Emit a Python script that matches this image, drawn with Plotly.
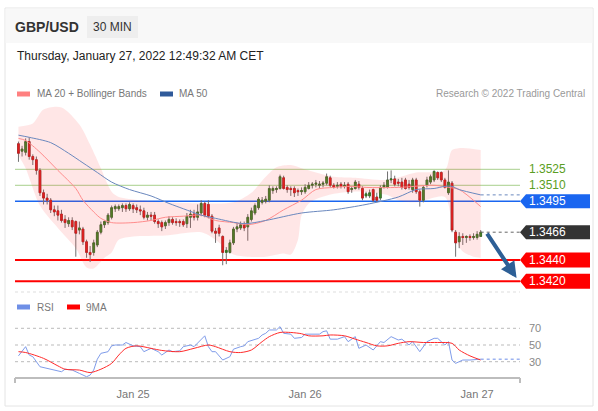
import plotly.graph_objects as go
from datetime import datetime, timedelta

# ---------------- data ----------------
start_time = datetime(2022, 1, 24, 8, 0)
step = timedelta(minutes=30)

open_ = [1.3549,1.3542,1.3541,1.3551,1.3537,1.3534,1.3524,1.3503,1.3498,1.3496,
         1.3487,1.3486,1.3483,1.3478,1.3474,1.3477,1.3476,1.3468,1.3469,1.3457,
         1.3447,1.3447,1.3454,1.3466,1.3473,1.3475,1.3480,1.3488,1.3488,1.3489,
         1.3491,1.3488,1.3491,1.3489,1.3487,1.3486,1.3480,1.3482,1.3482,1.3476,
         1.3475,1.3472,1.3475,1.3478,1.3476,1.3476,1.3476,1.3474,1.3480,1.3483,
         1.3480,1.3484,1.3493,1.3492,1.3481,1.3467,1.3470,1.3462,1.3447,1.3447,
         1.3456,1.3469,1.3470,1.3473,1.3471,1.3478,1.3484,1.3489,1.3494,1.3495,
         1.3496,1.3505,1.3506,1.3507,1.3517,1.3508,1.3507,1.3507,1.3505,1.3504,
         1.3504,1.3507,1.3510,1.3511,1.3510,1.3511,1.3512,1.3517,1.3510,1.3509,
         1.3511,1.3509,1.3511,1.3506,1.3507,1.3511,1.3507,1.3500,1.3500,1.3506,
         1.3499,1.3498,1.3508,1.3508,1.3515,1.3516,1.3513,1.3513,1.3515,1.3511,
         1.3506,1.3515,1.3504,1.3496,1.3510,1.3513,1.3515,1.3522,1.3522,1.3515,
         1.3503,1.3512,1.3466,1.3457,1.3462,1.3461,1.3462,1.3461,1.3461,1.3462]
high = [1.3551,1.3547,1.3554,1.3555,1.3539,1.3537,1.3526,1.3506,1.3502,1.3498,
        1.3491,1.3491,1.3487,1.3482,1.3480,1.3480,1.3477,1.3476,1.3471,1.3459,
        1.3453,1.3459,1.3468,1.3476,1.3477,1.3484,1.3491,1.3492,1.3492,1.3493,
        1.3493,1.3494,1.3493,1.3492,1.3491,1.3489,1.3485,1.3485,1.3485,1.3478,
        1.3477,1.3477,1.3481,1.3480,1.3479,1.3478,1.3478,1.3484,1.3487,1.3487,
        1.3492,1.3496,1.3495,1.3496,1.3483,1.3470,1.3473,1.3463,1.3452,1.3459,
        1.3471,1.3475,1.3476,1.3476,1.3483,1.3489,1.3493,1.3499,1.3499,1.3500,
        1.3510,1.3509,1.3509,1.3520,1.3519,1.3510,1.3509,1.3509,1.3507,1.3508,
        1.3511,1.3513,1.3513,1.3515,1.3514,1.3514,1.3521,1.3519,1.3512,1.3513,
        1.3513,1.3513,1.3513,1.3509,1.3515,1.3514,1.3509,1.3504,1.3506,1.3507,
        1.3503,1.3510,1.3513,1.3523,1.3524,1.3519,1.3516,1.3517,1.3517,1.3515,
        1.3517,1.3517,1.3506,1.3510,1.3518,1.3520,1.3524,1.3523,1.3523,1.3517,
        1.3524,1.3514,1.3468,1.3466,1.3465,1.3463,1.3464,1.3465,1.3467,1.3468]
low = [1.3532,1.3537,1.3538,1.3534,1.3529,1.3520,1.3500,1.3492,1.3492,1.3484,
       1.3481,1.3477,1.3475,1.3470,1.3471,1.3468,1.3443,1.3464,1.3454,1.3442,
       1.3438,1.3444,1.3452,1.3464,1.3470,1.3473,1.3478,1.3485,1.3486,1.3485,
       1.3485,1.3486,1.3484,1.3484,1.3482,1.3478,1.3477,1.3477,1.3474,1.3470,
       1.3467,1.3469,1.3472,1.3473,1.3472,1.3471,1.3471,1.3470,1.3470,1.3477,
       1.3477,1.3481,1.3480,1.3479,1.3465,1.3456,1.3462,1.3435,1.3436,1.3446,
       1.3454,1.3466,1.3468,1.3467,1.3458,1.3476,1.3482,1.3487,1.3492,1.3493,
       1.3494,1.3502,1.3503,1.3506,1.3506,1.3503,1.3500,1.3499,1.3500,1.3501,
       1.3502,1.3506,1.3507,1.3508,1.3507,1.3508,1.3510,1.3508,1.3507,1.3507,
       1.3507,1.3507,1.3502,1.3503,1.3506,1.3506,1.3496,1.3498,1.3498,1.3494,
       1.3494,1.3496,1.3507,1.3507,1.3512,1.3509,1.3509,1.3506,1.3506,1.3506,
       1.3503,1.3502,1.3490,1.3494,1.3508,1.3511,1.3513,1.3515,1.3513,1.3507,
       1.3501,1.3466,1.3443,1.3451,1.3454,1.3456,1.3458,1.3459,1.3459,1.3462]
close = [1.3540,1.3544,1.3551,1.3537,1.3534,1.3524,1.3503,1.3498,1.3496,1.3487,
         1.3485,1.3482,1.3477,1.3475,1.3477,1.3471,1.3465,1.3470,1.3457,1.3447,
         1.3445,1.3456,1.3466,1.3473,1.3476,1.3482,1.3489,1.3490,1.3490,1.3491,
         1.3488,1.3492,1.3488,1.3487,1.3486,1.3480,1.3482,1.3481,1.3476,1.3474,
         1.3471,1.3475,1.3478,1.3475,1.3475,1.3475,1.3473,1.3481,1.3483,1.3480,
         1.3485,1.3493,1.3482,1.3481,1.3467,1.3465,1.3465,1.3447,1.3449,1.3456,
         1.3469,1.3471,1.3473,1.3470,1.3480,1.3486,1.3491,1.3497,1.3496,1.3497,
         1.3507,1.3507,1.3507,1.3518,1.3507,1.3506,1.3506,1.3503,1.3504,1.3505,
         1.3508,1.3510,1.3511,1.3512,1.3511,1.3512,1.3518,1.3510,1.3508,1.3510,
         1.3509,1.3510,1.3504,1.3507,1.3513,1.3508,1.3498,1.3502,1.3503,1.3496,
         1.3496,1.3508,1.3510,1.3515,1.3516,1.3511,1.3512,1.3508,1.3507,1.3508,
         1.3515,1.3504,1.3496,1.3508,1.3515,1.3518,1.3523,1.3517,1.3515,1.3508,
         1.3513,1.3468,1.3456,1.3462,1.3461,1.3462,1.3461,1.3462,1.3464,1.3466]

ma20_idx = [0, 2, 6, 11, 16, 18, 21, 23, 26, 32, 37, 41, 46, 51, 55, 60, 64, 69, 74,
            79, 83, 88, 93, 97, 106, 116, 120, 123, 129]
ma20_val = [1.3554, 1.3552, 1.3541, 1.3524, 1.3507, 1.3496, 1.3485, 1.3479, 1.3475,
            1.3475, 1.3477, 1.3480, 1.3481, 1.3482, 1.3477, 1.3475, 1.3473, 1.3477,
            1.3487, 1.3496, 1.3506, 1.3508, 1.3509, 1.3508, 1.3508, 1.3510, 1.3508,
            1.3506, 1.3490]

ma50_idx = [0, 3, 9, 14, 18, 22, 26, 31, 37, 42, 46, 51, 55, 63, 69, 79, 88, 97,
            106, 111, 116, 119, 121, 123, 129]
ma50_val = [1.3557, 1.3555, 1.3550, 1.3540, 1.3531, 1.3522, 1.3513, 1.3506, 1.3500,
            1.3493, 1.3488, 1.3482, 1.3479, 1.3474, 1.3477, 1.3484, 1.3487, 1.3492,
            1.3499, 1.3506, 1.3507, 1.3509, 1.3509, 1.3506, 1.3501]

bb_up_idx = [0, 4, 7, 12, 17, 20, 23, 26, 28, 34, 41, 51, 60, 65, 69, 72, 76, 79,
             83, 88, 94, 103, 111, 119, 121, 124, 129]
bb_up_val = [1.3565, 1.3568, 1.3581, 1.3583, 1.3567, 1.3548, 1.3526, 1.3504, 1.3499,
             1.3496, 1.3494, 1.3493, 1.3494, 1.3503, 1.3518, 1.3527, 1.3529, 1.3526,
             1.3522, 1.3518, 1.3517, 1.3515, 1.3522, 1.3524, 1.3543, 1.3545, 1.3543]

bb_lo_idx = [0, 2, 6, 11, 16, 19, 21, 24, 26, 28, 32, 41, 51, 55, 60, 64, 69, 74,
             76, 78, 79, 81, 83, 88, 93, 97, 103, 106, 111, 119, 121, 122, 124, 127, 129]
bb_lo_val = [1.3538, 1.3526, 1.3491, 1.3470, 1.3451, 1.3433, 1.3432, 1.3442, 1.3447,
             1.3459, 1.3462, 1.3463, 1.3466, 1.3459, 1.3445, 1.3443, 1.3443, 1.3446,
             1.3445, 1.3459, 1.3482, 1.3493, 1.3497, 1.3502, 1.3504, 1.3504, 1.3501,
             1.3496, 1.3494, 1.3499, 1.3473, 1.3459, 1.3448, 1.3443, 1.3442]

rsi_idx = [0, 1, 2, 3, 4, 6, 8, 10, 12, 13, 15, 17, 19, 20, 21, 22, 23, 25, 26, 27,
           29, 30, 32, 34, 35, 37, 39, 40, 42, 43, 45, 46, 48, 49, 51, 52, 53, 54, 55,
           57, 59, 60, 62, 63, 64, 67, 68, 69, 70, 72, 73, 74, 76, 77, 79, 80, 84, 85,
           86, 87, 89, 91, 92, 94, 95, 97, 99, 101, 102, 104, 106, 107, 109, 110, 112,
           114, 116, 117, 119, 120, 121, 122, 124, 126, 129]
rsi_val = [37, 42, 48, 38, 36, 24, 22, 20, 18, 21, 20, 16, 12, 14, 20, 33, 40, 42, 49, 50,
           50, 53, 49, 48, 42, 46, 42, 38, 44, 42, 43, 48, 50, 48, 56, 61, 48, 42, 42,
           32, 36, 45, 48, 49, 54, 58, 62, 64, 68, 68, 72, 64, 63, 58, 59, 63, 63, 66,
           67, 57, 57, 60, 54, 60, 46, 50, 44, 54, 53, 60, 56, 57, 50, 54, 42,
           54, 58, 58, 50, 54, 32, 28, 32, 32, 33]

rsi_ma_idx = [0, 2, 7, 11, 13, 17, 20, 23, 26, 28, 30, 33, 37, 40, 45, 49, 53, 55, 59,
              62, 65, 68, 70, 73, 76, 79, 81, 85, 87, 91, 94, 97, 100, 103, 106, 109,
              113, 117, 121, 123, 126, 129]
rsi_ma_val = [42, 41, 34, 25, 21, 20, 17, 21, 28, 38, 46, 49, 46, 43.5, 42, 46, 50, 48,
              42, 41, 44, 54, 60, 65, 65, 63.5, 61, 61, 62, 61, 57, 53, 49, 49, 52, 54,
              53, 53, 52, 44, 37, 32]

levels_green = [1.3525, 1.3510]
level_blue = 1.3495
level_last = 1.3466
levels_red = [1.3440, 1.3420]
rsi_levels = [70, 50, 30]
day_ticks = ["2022-01-25", "2022-01-26", "2022-01-27"]
day_labels = ["Jan 25", "Jan 26", "Jan 27"]

# ---------------- geometry ----------------
FONT = "Liberation Sans, Arial, Helvetica, sans-serif"
W, H = 598, 411
ML, MR, MT, MB = 15, 78, 100, 33
PW = W - ML - MR
PH = H - MT - MB


def px(x):
    return (x - ML) / PW


def py(y):
    return (H - MB - y) / PH


times = [start_time + i * step for i in range(len(close))]


def t(i):
    return start_time + i * step


GREEN_TXT = "#5a9e22"
BLUE = "#1a66f0"
RED = "#ff0000"
DARK = "#333333"
WICK = "#707070"

fig = go.Figure()

# Bollinger band fill
fig.add_trace(go.Scatter(x=[t(i) for i in bb_lo_idx], y=bb_lo_val, mode="lines",
                         line=dict(width=0, shape="spline", smoothing=0.8),
                         hoverinfo="skip", yaxis="y"))
fig.add_trace(go.Scatter(x=[t(i) for i in bb_up_idx], y=bb_up_val, mode="lines",
                         line=dict(width=0, shape="spline", smoothing=0.8),
                         fill="tonexty", fillcolor="rgba(255,60,60,0.13)",
                         hoverinfo="skip", yaxis="y"))

# moving averages
fig.add_trace(go.Scatter(x=[t(i) for i in ma20_idx], y=ma20_val, mode="lines",
                         line=dict(color="#ff8c8c", width=1, shape="spline", smoothing=0.8),
                         yaxis="y"))
fig.add_trace(go.Scatter(x=[t(i) for i in ma50_idx], y=ma50_val, mode="lines",
                         line=dict(color="#6a88be", width=1, shape="spline", smoothing=0.8),
                         yaxis="y"))

# candles: wick layer + body layer
fig.add_trace(go.Candlestick(x=times, open=open_, high=high, low=low, close=close,
                             increasing=dict(line=dict(color=WICK, width=1), fillcolor=WICK),
                             decreasing=dict(line=dict(color=WICK, width=1), fillcolor=WICK),
                             whiskerwidth=0, yaxis="y", hoverinfo="skip"))
body_hi = [max(o, c) for o, c in zip(open_, close)]
body_lo = [min(o, c) for o, c in zip(open_, close)]
fig.add_trace(go.Candlestick(x=times, open=open_, high=body_hi, low=body_lo, close=close,
                             increasing=dict(line=dict(color="#2f6e1c", width=0.6), fillcolor="#3d8a26"),
                             decreasing=dict(line=dict(color="#c81010", width=0.6), fillcolor="#e32020"),
                             whiskerwidth=0, yaxis="y", hoverinfo="skip"))

# RSI
fig.add_trace(go.Scatter(x=[t(i) for i in rsi_idx], y=rsi_val, mode="lines",
                         line=dict(color="#7f9cea", width=1), yaxis="y2"))
fig.add_trace(go.Scatter(x=[t(i) for i in rsi_ma_idx], y=rsi_ma_val, mode="lines",
                         line=dict(color="#ff2a2a", width=1, shape="spline", smoothing=0.8),
                         yaxis="y2"))

x_end = datetime(2022, 1, 27, 5, 59)
x_start = datetime(2022, 1, 24, 7, 31)

shapes = []
# card border and header
shapes.append(dict(type="rect", xref="paper", yref="paper", x0=px(5), x1=px(593),
                   y0=py(406), y1=py(8), line=dict(color="#e4e4e4", width=1),
                   fillcolor="rgba(0,0,0,0)", layer="below"))
shapes.append(dict(type="rect", xref="paper", yref="paper", x0=px(5.5), x1=px(592.5),
                   y0=py(43), y1=py(8.5), line=dict(width=0), fillcolor="#f8f8f8", layer="below"))
shapes.append(dict(type="rect", xref="paper", yref="paper", x0=px(87), x1=px(138),
                   y0=py(38), y1=py(16), line=dict(width=0), fillcolor="#eeeeee", layer="below"))
# level lines
for lv in levels_green:
    shapes.append(dict(type="line", xref="paper", yref="y", x0=0, x1=1, y0=lv, y1=lv,
                       line=dict(color="#a8cf8c", width=1), layer="below"))
shapes.append(dict(type="line", xref="paper", yref="y", x0=0, x1=1, y0=level_blue, y1=level_blue,
                   line=dict(color=BLUE, width=1.5), layer="below"))
for lv in levels_red:
    shapes.append(dict(type="line", xref="paper", yref="y", x0=0, x1=1, y0=lv, y1=lv,
                       line=dict(color=RED, width=2), layer="below"))
# dotted extensions
shapes.append(dict(type="line", xref="x", yref="y", x0=t(ma50_idx[-1]), x1=x_end,
                   y0=ma50_val[-1], y1=ma50_val[-1], line=dict(color="#6a88be", width=1, dash="dot")))
shapes.append(dict(type="line", xref="x", yref="y", x0=t(len(close) - 1), x1=x_end,
                   y0=close[-1], y1=close[-1], line=dict(color="#666666", width=1, dash="dot")))
shapes.append(dict(type="line", xref="x", yref="y2", x0=t(rsi_idx[-1]), x1=x_end,
                   y0=rsi_val[-1], y1=rsi_val[-1], line=dict(color="#9db3f0", width=1.5, dash="dot")))
# rsi grid
for lv in rsi_levels:
    shapes.append(dict(type="line", xref="paper", yref="y2", x0=0, x1=1, y0=lv, y1=lv,
                       line=dict(color="#bbbbbb", width=1, dash="dot"), layer="below"))
# separator
shapes.append(dict(type="line", xref="paper", yref="paper", x0=0, x1=1, y0=py(292), y1=py(292),
                   line=dict(color="#dddddd", width=1, dash="dot"), layer="below"))
# bottom axis + end ticks
shapes.append(dict(type="line", xref="paper", yref="paper", x0=0, x1=1, y0=0, y1=0,
                   line=dict(color="#bdbdbd", width=2)))
for xe in (0, 1):
    shapes.append(dict(type="line", xref="paper", yref="paper", x0=xe, x1=xe, y0=0, y1=py(383),
                       line=dict(color="#bdbdbd", width=2)))


def tag(level, color, yref="y", half=7):
    return dict(type="path", xref="paper", xanchor=1, xsizemode="pixel",
                yref=yref, yanchor=level, ysizemode="pixel",
                path=f"M 0 0 L 6 {half} L 70 {half} L 70 {-half} L 6 {-half} Z",
                fillcolor=color, line=dict(width=0))


shapes.append(tag(level_blue, BLUE))
shapes.append(tag(level_last, DARK))
for lv in levels_red:
    shapes.append(tag(lv, RED, half=7.5))

annotations = []


def text_px(txt, x, y, size, color, anchor="left", bold=False):
    annotations.append(dict(text=f"<b>{txt}</b>" if bold else txt, xref="paper", yref="paper",
                            x=px(x), y=py(y), xanchor=anchor, yanchor="middle", showarrow=False,
                            font=dict(family=FONT, size=size, color=color)))


text_px("GBP/USD", 13, 27, 14, "#333333", bold=True)
text_px("30 MIN", 112.5, 27, 12, "#333333", anchor="center")
text_px("Thursday, January 27, 2022 12:49:32 AM CET", 15, 56, 12, "#222222")
text_px("MA 20 + Bollinger Bands", 35, 94, 10, "#777777")
text_px("MA 50", 177, 94, 10, "#777777")
text_px("Research © 2022 Trading Central", 587, 94, 10, "#999999", anchor="right")
text_px("RSI", 35, 307, 10, "#777777")
text_px("9MA", 84, 307, 10, "#777777")

# legend swatches
for (x0, y0, col) in [(17, 94, "#ff8080"), (160, 94, "#2f5a9a"), (17, 307, "#6f8fe6"), (67, 307, "#ff0000")]:
    shapes.append(dict(type="rect", xref="paper", yref="paper", x0=px(x0), x1=px(x0 + 13),
                       y0=py(y0 + 2.5), y1=py(y0 - 2.5), fillcolor=col, line=dict(width=0)))


def rlabel(txt, yval, color, yref="y", size=12):
    annotations.append(dict(text=txt, xref="paper", yref=yref, x=1, y=yval, xanchor="left",
                            yanchor="middle", xshift=7, showarrow=False,
                            font=dict(family=FONT, size=size, color=color)))


for lv in levels_green:
    rlabel(f"{lv:.4f}", lv, GREEN_TXT)
rlabel(f"{level_blue:.4f}", level_blue, "white")
rlabel(f"{level_last:.4f}", level_last, "white")
for lv in levels_red:
    rlabel(f"{lv:.4f}", lv, "white")
for lv in rsi_levels:
    rlabel(str(lv), lv, "#888888", yref="y2", size=11)

# forecast arrow
annotations.append(dict(x=t(len(close) - 1) + timedelta(minutes=300), y=levels_red[1] + 0.0003,
                        ax=t(len(close) - 1) + timedelta(minutes=45), ay=close[-1],
                        xref="x", yref="y", axref="x", ayref="y", showarrow=True,
                        arrowhead=2, arrowsize=0.8, arrowwidth=4, arrowcolor="#2d5f96", text=""))

fig.update_layout(
    width=W, height=H, margin=dict(l=ML, r=MR, t=MT, b=MB),
    paper_bgcolor="white", plot_bgcolor="white", showlegend=False,
    font=dict(family=FONT),
    xaxis=dict(type="date", range=[x_start, x_end], anchor="y2", showgrid=False,
               zeroline=False, showline=False, rangeslider=dict(visible=False),
               tickvals=day_ticks, ticktext=day_labels, ticks="outside", ticklen=6,
               tickcolor="rgba(0,0,0,0)",
               tickfont=dict(family=FONT, size=11, color="#777777")),
    yaxis=dict(domain=[py(290), 1], range=[1.341178, 1.35900], showgrid=False,
               zeroline=False, showticklabels=False, fixedrange=True),
    yaxis2=dict(domain=[0, py(300)], range=[10.48, 103.9], showgrid=False,
                zeroline=False, showticklabels=False),
    shapes=shapes, annotations=annotations,
)

fig.write_html("out.html", config={"displayModeBar": False, "staticPlot": True},
               post_script="document.body.style.margin='0px';document.body.style.overflow='hidden';")
